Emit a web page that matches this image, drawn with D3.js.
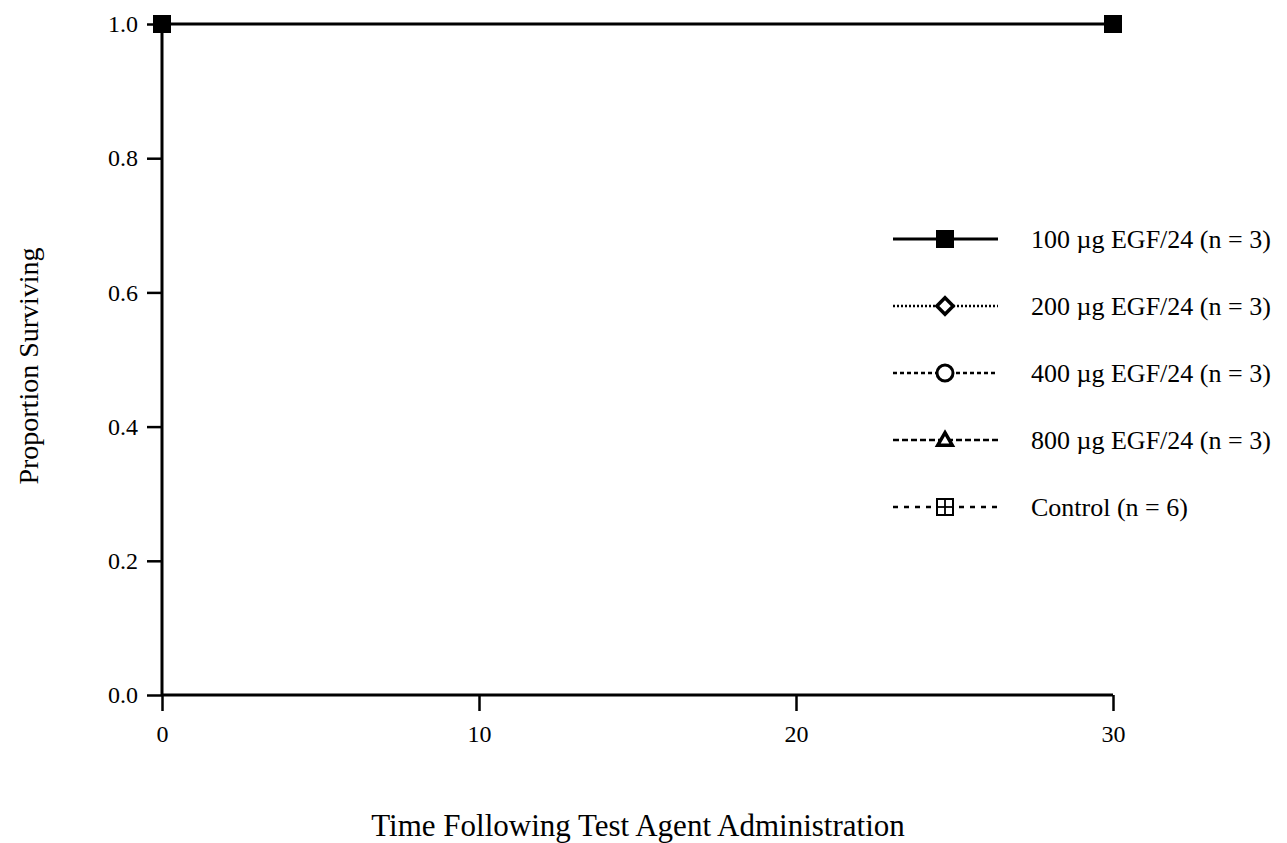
<!DOCTYPE html>
<html>
<head>
<meta charset="utf-8">
<script src="https://cdn.jsdelivr.net/npm/d3@7"></script>
<style>
  body { margin: 0; background: #fff; }
  svg text { font-family: "Liberation Serif", "Times New Roman", serif; fill: #000; }
</style>
</head>
<body>
<svg id="chart" width="1287" height="843"></svg>
<script>
// data
const timePoints = [0, 30];
const survival100 = [1.0, 1.0];
const xTicks = [0, 10, 20, 30];
const yTicks = [0.0, 0.2, 0.4, 0.6, 0.8, 1.0];
const legendLabels = [
    "100 \u00b5g EGF/24 (n = 3)",
    "200 \u00b5g EGF/24 (n = 3)",
    "400 \u00b5g EGF/24 (n = 3)",
    "800 \u00b5g EGF/24 (n = 3)",
    "Control (n = 6)"
];
const legendDashes = ["none", "2,2", "4,3", "6,3", "5,6"];
const legendMarkers = ["square", "diamond", "circle", "triangle", "grid"];

const svg = d3.select("#chart");

const x = d3.scaleLinear().domain([0, 30]).range([162, 1113]);
const y = d3.scaleLinear().domain([0, 1]).range([695, 24]);

// axes
const yAxis = svg.append("g")
    .attr("transform", `translate(${x(0)},0)`)
    .call(d3.axisLeft(y).tickValues(yTicks).tickFormat(d3.format(".1f")).tickSize(15).tickPadding(9));
const xAxis = svg.append("g")
    .attr("transform", `translate(0,${y(0)})`)
    .call(d3.axisBottom(x).tickValues(xTicks).tickSize(16).tickPadding(14));

[xAxis, yAxis].forEach(a => {
    a.attr("font-size", null).attr("font-family", null);
    a.select(".domain").attr("stroke", "#000").attr("stroke-width", 3);
    a.selectAll(".tick line").attr("stroke", "#000").attr("stroke-width", 2.5);
    a.selectAll(".tick text").style("font-size", "24px").attr("fill", "#000");
});
// remove the outer tick stubs d3 draws on the domain path
yAxis.select(".domain").attr("d", `M0,${y(0)}V${y(1)}`);
xAxis.select(".domain").attr("d", `M${x(0)},0H${x(30)}`);

// data line
const pts = timePoints.map((t, i) => [t, survival100[i]]);
svg.append("path")
    .datum(pts)
    .attr("fill", "none")
    .attr("stroke", "#000")
    .attr("stroke-width", 3)
    .attr("d", d3.line().x(d => x(d[0])).y(d => y(d[1])));

svg.selectAll(".pt")
    .data(pts)
    .enter()
    .append("rect")
    .attr("class", "pt")
    .attr("x", d => x(d[0]) - 9)
    .attr("y", d => y(d[1]) - 9)
    .attr("width", 18)
    .attr("height", 18)
    .attr("fill", "#000");

// axis titles
svg.append("text")
    .attr("transform", "translate(38,366) rotate(-90)")
    .attr("text-anchor", "middle")
    .style("font-size", "28px")
    .text("Proportion Surviving");

svg.append("text")
    .attr("x", 638)
    .attr("y", 836)
    .attr("text-anchor", "middle")
    .style("font-size", "31px")
    .text("Time Following Test Agent Administration");

// legend
const legend = svg.append("g").attr("transform", "translate(893,239)");
const rowGap = 67;

legendLabels.forEach((label, i) => {
    const g = legend.append("g").attr("transform", `translate(0,${i * rowGap})`);
    g.append("line")
        .attr("x1", 0).attr("x2", 105)
        .attr("stroke", "#000")
        .attr("stroke-width", i === 0 ? 3 : 2.5)
        .attr("stroke-dasharray", legendDashes[i]);

    const cx = 52;
    const m = legendMarkers[i];
    if (m === "square") {
        g.append("rect").attr("x", cx - 9).attr("y", -9).attr("width", 18).attr("height", 18).attr("fill", "#000");
    } else if (m === "diamond") {
        g.append("path").attr("d", d3.symbol(d3.symbolDiamond2, 170)())
            .attr("transform", `translate(${cx},0)`)
            .attr("fill", "#fff").attr("stroke", "#000").attr("stroke-width", 3.5);
    } else if (m === "circle") {
        g.append("circle").attr("cx", cx).attr("r", 8)
            .attr("fill", "#fff").attr("stroke", "#000").attr("stroke-width", 3);
    } else if (m === "triangle") {
        g.append("path").attr("d", d3.symbol(d3.symbolTriangle2, 150)())
            .attr("transform", `translate(${cx},1)`)
            .attr("fill", "#fff").attr("stroke", "#000").attr("stroke-width", 3.5);
    } else {
        g.append("rect").attr("x", cx - 8).attr("y", -8).attr("width", 16).attr("height", 16)
            .attr("fill", "#fff").attr("stroke", "#000").attr("stroke-width", 2);
        g.append("line").attr("x1", cx).attr("x2", cx).attr("y1", -8).attr("y2", 8).attr("stroke", "#000").attr("stroke-width", 1.8);
        g.append("line").attr("x1", cx - 8).attr("x2", cx + 8).attr("y1", 0).attr("y2", 0).attr("stroke", "#000").attr("stroke-width", 1.8);
    }

    g.append("text")
        .attr("x", 138)
        .attr("y", 9)
        .style("font-size", "26px")
        .text(label);
});
</script>
</body>
</html>
